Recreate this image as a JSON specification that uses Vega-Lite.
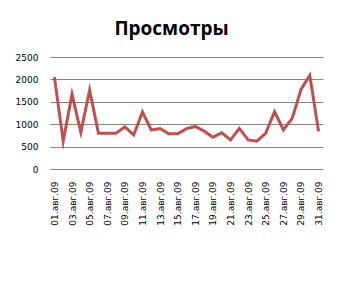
{
  "$schema": "https://vega.github.io/schema/vega-lite/v6.json",
  "width": 273,
  "height": 112,
  "autosize": {"type": "none"},
  "padding": {"left": 50, "top": 57, "right": 20, "bottom": 117},
  "background": "white",
  "title": {
    "text": "Просмотры",
    "font": "Open Sans",
    "fontSize": 19,
    "fontWeight": "bold",
    "color": "#000000",
    "anchor": "middle",
    "frame": "group",
    "baseline": "alphabetic",
    "offset": -1,
    "dx": -15
  },
  "config": {
    "view": {"stroke": null},
    "axis": {
      "labelFont": "DejaVu Sans",
      "labelFontSize": 9,
      "labelColor": "#000000",
      "domain": false,
      "ticks": false,
      "title": null
    }
  },
  "data": {
    "values": [
      {"date": "01.авг.09", "views": 2050},
      {"date": "02.авг.09", "views": 620},
      {"date": "03.авг.09", "views": 1670},
      {"date": "04.авг.09", "views": 820},
      {"date": "05.авг.09", "views": 1760},
      {"date": "06.авг.09", "views": 800},
      {"date": "07.авг.09", "views": 800},
      {"date": "08.авг.09", "views": 800},
      {"date": "09.авг.09", "views": 940},
      {"date": "10.авг.09", "views": 760},
      {"date": "11.авг.09", "views": 1270},
      {"date": "12.авг.09", "views": 870},
      {"date": "13.авг.09", "views": 905},
      {"date": "14.авг.09", "views": 785},
      {"date": "15.авг.09", "views": 785},
      {"date": "16.авг.09", "views": 900},
      {"date": "17.авг.09", "views": 950},
      {"date": "18.авг.09", "views": 845},
      {"date": "19.авг.09", "views": 710},
      {"date": "20.авг.09", "views": 810},
      {"date": "21.авг.09", "views": 650},
      {"date": "22.авг.09", "views": 905},
      {"date": "23.авг.09", "views": 650},
      {"date": "24.авг.09", "views": 620},
      {"date": "25.авг.09", "views": 800},
      {"date": "26.авг.09", "views": 1280},
      {"date": "27.авг.09", "views": 875},
      {"date": "28.авг.09", "views": 1130},
      {"date": "29.авг.09", "views": 1775},
      {"date": "30.авг.09", "views": 2090},
      {"date": "31.авг.09", "views": 840}
    ]
  },
  "mark": {"type": "line", "color": "#C0504D", "strokeWidth": 3, "strokeJoin": "miter", "strokeMiterLimit": 10},
  "encoding": {
    "x": {
      "field": "date",
      "type": "ordinal",
      "sort": null,
      "scale": {"type": "point", "padding": 0.5},
      "axis": {
        "labelAngle": -90,
        "labelPadding": 12,
        "grid": false,
        "labelOverlap": false,
        "values": ["01.авг.09","03.авг.09","05.авг.09","07.авг.09","09.авг.09","11.авг.09","13.авг.09","15.авг.09","17.авг.09","19.авг.09","21.авг.09","23.авг.09","25.авг.09","27.авг.09","29.авг.09","31.авг.09"]
      }
    },
    "y": {
      "field": "views",
      "type": "quantitative",
      "scale": {"domain": [0, 2500], "nice": false},
      "axis": {
        "values": [0, 500, 1000, 1500, 2000, 2500],
        "format": "d",
        "grid": true,
        "gridColor": "#868686",
        "gridWidth": 1,
        "gridOpacity": 1,
        "labelPadding": 12
      }
    }
  }
}
